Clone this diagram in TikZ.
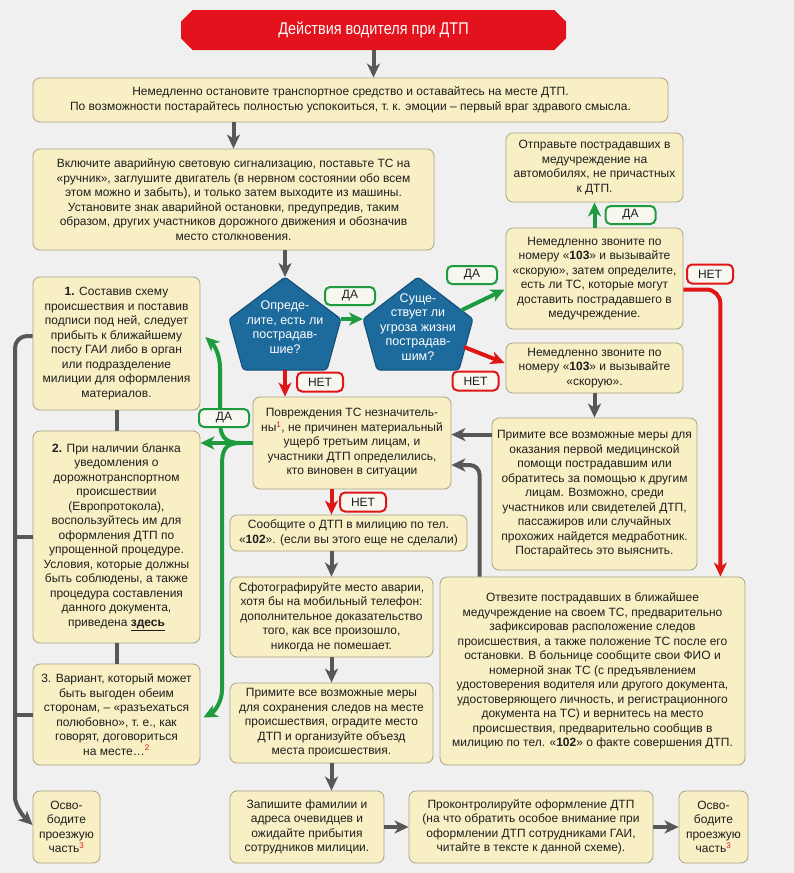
\documentclass[tikz,border=0pt]{standalone}
\usepackage{fontspec}
\usepackage{graphicx}
\setmainfont{Liberation Sans}
\usetikzlibrary{arrows.meta,calc,shapes.misc}
\definecolor{bg}{HTML}{F0F0F0}
\definecolor{boxfill}{HTML}{F8F0C4}
\definecolor{boxdraw}{HTML}{A9A285}
\definecolor{titred}{HTML}{E3121C}
\definecolor{pentblue}{HTML}{1D6A9C}
\definecolor{pentdraw}{HTML}{134D74}
\definecolor{gry}{HTML}{575757}
\definecolor{grn}{HTML}{1E9B3E}
\definecolor{rd}{HTML}{E01515}
\definecolor{txt}{HTML}{1E1E1E}
\definecolor{lblfill}{HTML}{F7F7F0}
\newcommand{\fn}[1]{\textsuperscript{\color{rd}#1}}
\begin{document}
\begin{tikzpicture}[x=1pt,y=-1pt,
  box/.style={draw=boxdraw, line width=0.8pt, fill=boxfill, rounded corners=7pt, align=center, inner sep=0pt, text=txt, font=\fontsize{12}{14.5}\selectfont},
  sz/.style 2 args={minimum width=#1pt, minimum height=#2pt},
  titl/.style={chamfered rectangle, chamfered rectangle xsep=10pt, fill=titred, text=white, font=\fontsize{17}{19}\selectfont, minimum width=385pt, minimum height=40pt, inner sep=0pt},
  pent/.style={fill=pentblue, draw=pentdraw, line width=1pt, rounded corners=3pt},
  ptxt/.style={text=white, align=center, inner sep=0pt, font=\fontsize{12.5}{14.5}\selectfont},
  lbl/.style={rounded corners=5pt, line width=2pt, fill=lblfill, inner sep=0pt, text=txt, font=\fontsize{12}{14}\selectfont},
  da/.style={lbl, draw=grn, minimum width=50pt, minimum height=18pt},
  net/.style={lbl, draw=rd, minimum width=46pt, minimum height=19pt},
  tip/.style={-{Stealth[length=14pt,width=13pt,inset=4pt]}},
  garrow/.style={draw=gry, line width=4pt, tip},
  gline/.style={draw=gry, line width=4pt},
  grarrow/.style={draw=grn, line width=4pt, tip},
  grline/.style={draw=grn, line width=4pt},
  rarrow/.style={draw=rd, line width=4pt, tip}
]
\useasboundingbox (0,0) rectangle (794,873);
\fill[bg] (0,0) rectangle (794,873);

% title
\node[titl] (title) at (373.5,30) {\scalebox{0.85}[1]{Действия водителя при ДТП}};

% main boxes
\node[box, sz={635}{44}] (b1) at (350.5,100) {Немедленно остановите транспортное средство и оставайтесь на месте ДТП.\\По возможности постарайтесь полностью успокоиться, т.~к. эмоции – первый враг здравого смысла.};
\node[box, sz={401}{101}] (b2) at (233.5,199.5) {Включите аварийную световую сигнализацию, поставьте ТС на\\«ручник», заглушите двигатель (в нервном состоянии обо всем\\этом можно и забыть), и только затем выходите из машины.\\Установите знак аварийной остановки, предупредив, таким\\образом, других участников дорожного движения и обозначив\\место столкновения.};
\node[box, sz={177}{69}] (send) at (594.5,167.5) {Отправьте пострадавших в\\медучреждение на\\автомобилях, не причастных\\к ДТП.};
\node[box, sz={177}{101}] (c103a) at (594.5,278.5) {Немедленно звоните по\\номеру «\textbf{103}» и вызывайте\\«скорую», затем определите,\\есть ли ТС, которые могут\\доставить пострадавшего в\\медучреждение.};
\node[box, sz={177}{50}] (c103b) at (594.5,368) {Немедленно звоните по\\номеру «\textbf{103}» и вызывайте\\«скорую».};
\node[box, sz={205}{152}] (aid) at (594.5,494) {Примите все возможные меры для\\оказания первой медицинской\\помощи пострадавшим или\\обратитесь за помощью к другим\\лицам. Возможно, среди\\участников или свидетелей ДТП,\\пассажиров или случайных\\прохожих найдется медработник.\\Постарайтесь это выяснить.};
\node[box, sz={198}{92}] (dmg) at (352,443) {Повреждения ТС незначитель-\\ны\fn{1}, не причинен материальный\\ущерб третьим лицам, и\\участники ДТП определились,\\кто виновен в ситуации};
\node[box, sz={237}{36}] (call) at (348.5,533) {Сообщите о ДТП в милицию по тел.\\«\textbf{102}». (если вы этого еще не сделали)};
\node[box, sz={203}{80}] (photo) at (331.5,617) {Сфотографируйте место аварии,\\хотя бы на мобильный телефон:\\дополнительное доказательство\\того, как все произошло,\\никогда не помешает.};
\node[box, sz={203}{80}] (keep) at (331.5,723) {Примите все возможные меры\\для сохранения следов на месте\\происшествия, оградите место\\ДТП и организуйте объезд\\места происшествия.};
\node[box, sz={305}{188}] (take) at (592.5,671) {Отвезите пострадавших в ближайшее\\медучреждение на своем ТС, предварительно\\зафиксировав расположение следов\\происшествия, а также положение ТС после его\\остановки. В больнице сообщите свои ФИО и\\номерной знак ТС (с предъявлением\\удостоверения водителя или другого документа,\\удостоверяющего личность, и регистрационного\\документа на ТС) и вернитесь на место\\происшествия, предварительно сообщив в\\милицию по тел. «\textbf{102}» о факте совершения ДТП.};
\node[box, sz={167}{133}] (L1) at (116.5,343.5) {\textbf{1.} Составив схему\\происшествия и поставив\\подписи под ней, следует\\прибыть к ближайшему\\посту ГАИ либо в орган\\или подразделение\\милиции для оформления\\материалов.};
\node[box, sz={167}{212}] (L2) at (116.5,537) {\textbf{2.} При наличии бланка\\уведомления о\\дорожнотранспортном\\происшествии\\(Европротокола),\\воспользуйтесь им для\\оформления ДТП по\\упрощенной процедуре.\\Условия, которые должны\\быть соблюдены, а также\\процедура составления\\данного документа,\\приведена \textbf{\underline{здесь}}};
\node[box, sz={167}{101}] (L3) at (116.5,714.5) {3. Вариант, который может\\быть выгоден обеим\\сторонам, – «разъехаться\\полюбовно», т.~е., как\\говорят, договориться\\на месте…\fn{2}};
\node[box, sz={67}{72}] (free1) at (66.5,827) {Осво-\\бодите\\проезжую\\часть\fn{3}};
\node[box, sz={154}{72}] (write) at (307,827) {Запишите фамилии и\\адреса очевидцев и\\ожидайте прибытия\\сотрудников милиции.};
\node[box, sz={244}{72}] (control) at (531,827) {Проконтролируйте оформление ДТП\\(на что обратить особое внимание при\\оформлении ДТП сотрудниками ГАИ,\\читайте в тексте к данной схеме).};
\node[box, sz={69}{72}] (free2) at (713.5,827) {Осво-\\бодите\\проезжую\\часть\fn{3}};

% pentagons
\coordinate (p1t) at (285,277); \coordinate (p1r) at (341,319); \coordinate (p1br) at (327,370); \coordinate (p1bl) at (243,370); \coordinate (p1l) at (229,319);
\path[pent] (p1t) -- (p1r) -- (p1br) -- (p1bl) -- (p1l) -- cycle;
\node[ptxt] (p1) at (285,327) {Опреде-\\лите, есть ли\\пострадав-\\шие?};
\coordinate (p2t) at (418,277); \coordinate (p2r) at (473,319); \coordinate (p2br) at (459,370); \coordinate (p2bl) at (377,370); \coordinate (p2l) at (363,319);
\path[pent] (p2t) -- (p2r) -- (p2br) -- (p2bl) -- (p2l) -- cycle;
\node[ptxt] (p2) at (418,327) {Суще-\\ствует ли\\угроза жизни\\пострадав-\\шим?};
\coordinate (p1b) at (285,370);
\coordinate (p2ur) at (462,310);
\coordinate (p2lr) at (464,347);

% grey main flow
\draw[garrow] (title.south) -- (title.south |- b1.north);
\draw[garrow] (b2.north |- b1.south) -- (b2.north);
\draw[garrow] (p1t |- b2.south) -- (p1t);
\draw[garrow] (c103b.south) -- (aid.north);
\draw[garrow] ($(aid.north west)+(0,17)$) -- (dmg.east |- {$(aid.north west)+(0,17)$});
\draw[garrow, rounded corners=10pt] ($(take.north west)+(40,0)$) |- ($(dmg.east)+(0,22)$);
\draw[garrow] (call.south -| photo.north) -- (photo.north);
\draw[garrow] (photo.south) -- (keep.north);
\draw[garrow] (keep.south) -- (keep.south |- write.north);
\draw[garrow] (write.east) -- (control.west);
\draw[garrow] (control.east) -- (free2.west);

% left grey
\coordinate (tA) at (15,336);
\coordinate (tB) at (15,785);
\draw[gline] (L1.south) -- (L2.north);
\draw[gline] (L2.south) -- (L3.north);
\draw[gline] (L2.west) -- (L2.west -| tA);
\draw[gline] (L3.west) -- (L3.west -| tA);
\draw[garrow, rounded corners=12pt] ($(L1.west)+(0,-7.5)$) -- (tA) -- (tB) .. controls (15,805) and (22,815) .. ($(free1.west)+(0,-2)$);

% green
\draw[grarrow] (p1r) -- (p2l);
\draw[grarrow] (p2ur) -- ($(c103a.west)+(-1,11)$);
\draw[grarrow] (c103a.north) -- (send.south);
\draw[grarrow] (dmg.west) -- (L2.east |- dmg.west);
\draw[grarrow] ($(dmg.west)+(-12,0)$) .. controls (224,443) and (220,436) .. (220,420) -- (220,368) .. controls (220,356) and (215,346) .. ($(L1.east)+(5,-6.5)$);
\draw[grarrow] ($(dmg.west)+(-12,0)$) .. controls (225,443) and (222,450) .. (222,465) -- (222,690) .. controls (222,702) and (214,712) .. ($(L3.east)+(3,3)$);

% red
\draw[rarrow] (p2lr) -- ($(c103b.west)+(-1,-5)$);
\draw[rarrow] (p1b) -- (p1b |- dmg.north);
\draw[rarrow] (dmg.south -| photo.north) -- (call.north -| photo.north);
\draw[rarrow, rounded corners=14pt] ($(c103a.east)+(0,11)$) -| ($(take.north east)+(-25,0)$);

% labels
\node[da] (da1) at (350,296) {ДА};
\node[da] (da2) at (472,275) {ДА};
\node[da] (da3) at (630.5,215) {ДА};
\node[da] (da4) at (224,418) {ДА};
\node[net] (net1) at (320,382) {НЕТ};
\node[net] (net2) at (475.5,381) {НЕТ};
\node[net] (net3) at (710,274) {НЕТ};
\node[net] (net4) at (363,502) {НЕТ};
\end{tikzpicture}
\end{document}
